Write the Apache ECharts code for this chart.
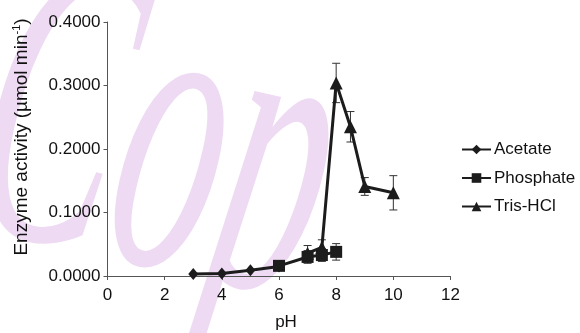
<!DOCTYPE html>
<html>
<head>
<meta charset="utf-8">
<script src="https://cdn.jsdelivr.net/npm/echarts@6/dist/echarts.min.js"></script>
<style>
  html, body { margin: 0; padding: 0; background: #fff; }
  #container { width: 580px; height: 333px; }
</style>
</head>
<body>
<div id="container"></div>
<script>
  // pH values and activity
  var acetatePH = [3, 4, 5, 6];
  var acetateVal = [0.003, 0.004, 0.009, 0.015];

  var phosphatePH = [6, 7, 7.5, 8];
  var phosphateVal = [0.016, 0.030, 0.033, 0.038];
  var phosphateErr = [0.004, 0.010, 0.010, 0.013];

  var trisPH = [7, 7.5, 8, 8.5, 9, 10];
  var trisVal = [0.036, 0.045, 0.304, 0.235, 0.141, 0.131];
  var trisErr = [0.012, 0.012, 0.031, 0.024, 0.014, 0.027];

  function pairs(xs, ys) {
    return xs.map(function (x, i) { return [x, ys[i]]; });
  }
  function errPairs(xs, ys, es) {
    return xs.map(function (x, i) { return [x, ys[i] - es[i], ys[i] + es[i]]; });
  }

  function renderErr(params, api) {
    var lo = api.coord([api.value(0), api.value(1)]);
    var hi = api.coord([api.value(0), api.value(2)]);
    var w = 4;
    var st = { stroke: '#333', lineWidth: 1 };
    return {
      type: 'group',
      children: [
        { type: 'line', shape: { x1: lo[0], y1: lo[1], x2: hi[0], y2: hi[1] }, style: st },
        { type: 'line', shape: { x1: lo[0] - w, y1: lo[1], x2: lo[0] + w, y2: lo[1] }, style: st },
        { type: 'line', shape: { x1: hi[0] - w, y1: hi[1], x2: hi[0] + w, y2: hi[1] }, style: st }
      ]
    };
  }

  var black = '#1c1c1c';
  var font = 'Liberation Sans, Arial, sans-serif';

  var dom = document.getElementById('container');
  var myChart = echarts.init(dom);
  var option = {
    animation: false,
    backgroundColor: '#fff',
    textStyle: { fontFamily: font },
    // the "Copy" watermark behind the plot
    graphic: [{
      type: 'text',
      z: -10,
      silent: true,
      x: 30,
      y: -90,
      scaleX: 0.5,
      rotation: -0.22,
      style: {
        text: 'Cop',
        font: 'italic 420px "Liberation Serif"',
        fill: '#eedaf3'
      }
    }],
    grid: { left: 107.5, right: 129.5, top: 22, bottom: 57, outerBoundsMode: 'none' },
    legend: {
      orient: 'vertical',
      left: 456,
      top: 136,
      itemWidth: 29,
      itemHeight: 12,
      itemGap: 11.5,
      textStyle: { fontSize: 17, color: '#111', lineHeight: 17, padding: [0, 0, 0, -2] },
      data: ['Acetate', 'Phosphate', 'Tris-HCl']
    },
    xAxis: {
      type: 'value',
      min: 0, max: 12, interval: 2,
      name: 'pH',
      nameLocation: 'middle',
      nameGap: 38,
      nameTextStyle: { fontSize: 17, color: '#111', padding: [0, 0, 0, 14] },
      splitLine: { show: false },
      axisLine: { lineStyle: { color: '#555', width: 1 } },
      axisTick: { length: 4, lineStyle: { color: '#555' } },
      axisLabel: { fontSize: 17, color: '#111', margin: 11 }
    },
    yAxis: {
      type: 'value',
      min: 0, max: 0.4, interval: 0.1,
      name: '{n|Enzyme activity (µmol min}{s|-1}{n|)}',
      nameLocation: 'middle',
      nameGap: 76,
      nameTextStyle: {
        padding: [0, 0, 0, 24],
        rich: {
          n: { fontSize: 19, color: '#111', fontFamily: font },
          s: { fontSize: 11, color: '#111', fontFamily: font, verticalAlign: 'top', padding: [0, 0, 9, 0] }
        }
      },
      splitLine: { show: false },
      axisLine: { show: true, lineStyle: { color: '#555', width: 1 } },
      axisTick: { show: true, length: 4, lineStyle: { color: '#555' } },
      axisLabel: {
        fontSize: 17, color: '#111', margin: 7,
        formatter: function (v) { return v.toFixed(4); }
      }
    },
    series: [
      {
        name: 'Tris-HCl err', type: 'custom', renderItem: renderErr,
        data: errPairs(trisPH, trisVal, trisErr), z: 1, silent: true
      },
      {
        name: 'Phosphate err', type: 'custom', renderItem: renderErr,
        data: errPairs(phosphatePH, phosphateVal, phosphateErr), z: 1, silent: true
      },
      {
        name: 'Acetate', type: 'line',
        data: pairs(acetatePH, acetateVal),
        symbol: 'diamond', symbolSize: [10, 12],
        lineStyle: { color: black, width: 3 },
        itemStyle: { color: black },
        z: 3
      },
      {
        name: 'Phosphate', type: 'line',
        data: pairs(phosphatePH, phosphateVal),
        symbol: 'rect', symbolSize: 12,
        lineStyle: { color: black, width: 3 },
        itemStyle: { color: black },
        z: 3
      },
      {
        name: 'Tris-HCl', type: 'line',
        data: pairs(trisPH, trisVal),
        symbol: 'triangle', symbolSize: [13, 13],
        lineStyle: { color: black, width: 3 },
        itemStyle: { color: black },
        z: 4
      }
    ]
  };
  if (option && typeof option === 'object') {
    myChart.setOption(option, true);
  }
</script>
</body>
</html>
